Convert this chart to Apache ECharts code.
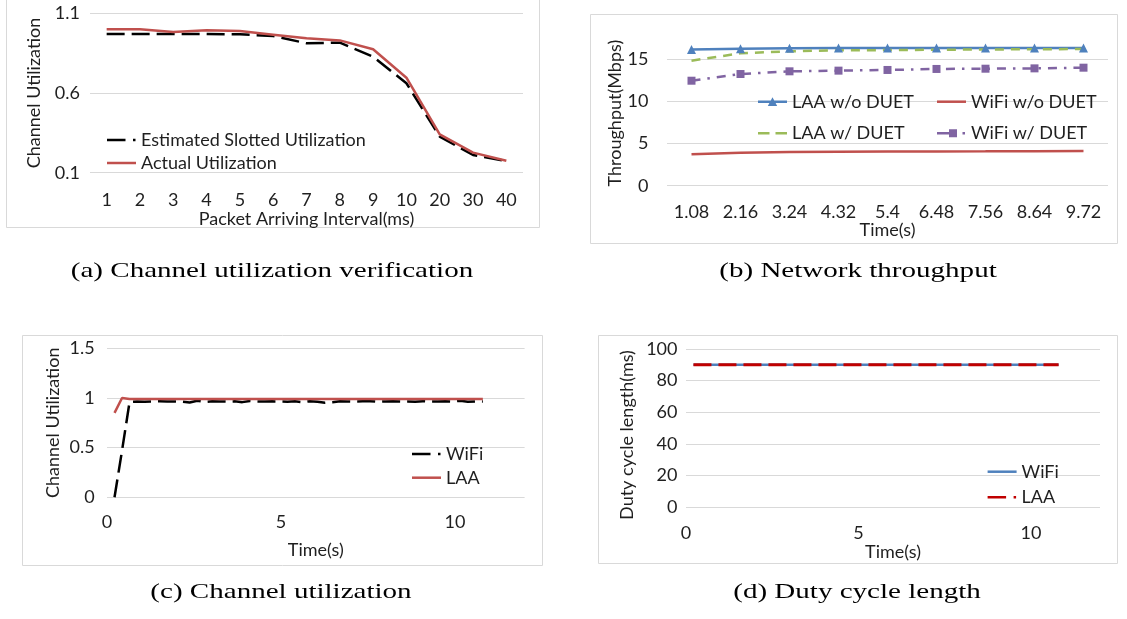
<!DOCTYPE html>
<html><head><meta charset="utf-8">
<script src="https://cdn.jsdelivr.net/npm/echarts@6.0.0/dist/echarts.min.js"></script>
<style>html,body{margin:0;padding:0;background:#fff}#c{width:1127px;height:619px}</style>
</head><body><div id="c"></div>
<script>
// (a) Channel utilization verification
const aCats = ['1','2','3','4','5','6','7','8','9','10','20','30','40'];
const aEstimated = [0.97,0.97,0.97,0.97,0.968,0.958,0.912,0.916,0.828,0.661,0.326,0.211,0.173];
const aActual = [1.0,1.0,0.983,0.993,0.989,0.966,0.943,0.93,0.874,0.696,0.34,0.226,0.175];
const aYTicks = [0.1, 0.6, 1.1];

// (b) Network throughput
const bTimes = ['1.08','2.16','3.24','4.32','5.4','6.48','7.56','8.64','9.72'];
const bLaaNo = [16.1,16.2,16.25,16.27,16.27,16.27,16.27,16.27,16.27];
const bWifiNo = [3.71,3.9,3.98,4.02,4.04,4.05,4.06,4.08,4.09];
const bLaaDuet = [14.78,15.65,15.89,16.0,16.03,16.07,16.1,16.13,16.15];
const bWifiDuet = [12.41,13.2,13.52,13.6,13.68,13.8,13.83,13.87,13.95];

// (c) Channel utilization
const timeC = [0.216,0.432,0.648,0.864,1.08,1.296,1.512,1.728,1.944,2.16,
  2.376,2.592,2.808,3.024,3.24,3.456,3.672,3.888,4.104,4.32,
  4.536,4.752,4.968,5.184,5.4,5.616,5.832,6.048,6.264,6.48,
  6.696,6.912,7.128,7.344,7.56,7.776,7.992,8.208,8.424,8.64,
  8.856,9.072,9.288,9.504,9.72,9.936,10.152,10.368,10.584,10.8];
const cWifi = [0,0.47,0.96,0.965,0.962,0.965,0.966,0.964,0.965,0.963,
  0.955,0.972,0.96,0.966,0.965,0.963,0.966,0.958,0.97,0.965,
  0.964,0.966,0.965,0.963,0.966,0.958,0.968,0.962,0.952,0.958,
  0.966,0.965,0.963,0.966,0.968,0.961,0.965,0.966,0.964,0.965,
  0.962,0.968,0.964,0.965,0.966,0.963,0.972,0.962,0.965,0.964];
const cLaa = [0.85,1.0,0.99,0.99,0.99,0.99,0.99,0.99,0.99,0.99,
  0.99,0.99,0.99,0.99,0.99,0.99,0.99,0.99,0.99,0.99,
  0.99,0.99,0.99,0.99,0.99,0.99,0.99,0.99,0.99,0.99,
  0.99,0.99,0.99,0.99,0.99,0.99,0.99,0.99,0.99,0.99,
  0.99,0.99,0.99,0.99,0.99,0.99,0.99,0.99,0.99,0.99];

// (d) Duty cycle length
const timeD = [0.216,1.08,2.16,3.24,4.32,5.4,6.48,7.56,8.64,9.72,10.8];
const dWifi = [90,90,90,90,90,90,90,90,90,90,90];
const dLaa = [90,90,90,90,90,90,90,90,90,90,90];

const captions = ['(a) Channel utilization verification','(b) Network throughput','(c) Channel utilization','(d) Duty cycle length'];

const FONT = 'Lato';
const TXT = '#1f1f1f';
const GRIDC = '#d9d9d9';
const RED = '#C0504D', BLUE = '#4F81BD', GREEN = '#9BBB59', PURPLE = '#8064A2', DRED = '#C00000';

const txt = {fontFamily: FONT, fontSize: 18, color: TXT};

function pairs(xs, ys) { return xs.map((x, i) => [x, ys[i]]); }

// legend icons (29x12 box, pinned by moveTo points)
const BOX = 'M0,0M29,12';
const icSolid = 'path://' + BOX + 'M0,4.75h29v2.5h-29z';
const icLongDashDot = 'path://' + BOX + 'M0,4.75h18.5v2.5h-18.5zM26,4.75h2.5v2.5h-2.5z';
const icDash = 'path://' + BOX + 'M0,4.75h11.5v2.5h-11.5zM17.5,4.75h11.5v2.5h-11.5z';
const icTri = 'path://' + BOX + 'M0,4.75h29v2.5h-29zM14.5,1.5L19.2,10.3H9.8z';
const icSqDashDot = 'path://' + BOX + 'M0,4.75h12v2.5h-12zM12,2h8v8h-8zM25.5,4.75h2.5v2.5h-2.5z';

function legItem(name, icon, color) {
  return {name: name, icon: icon, itemStyle: {color: color, borderWidth: 0}};
}
function legend(left, top, gap, items) {
  return {orient: 'vertical', left: left, top: top, itemGap: gap, itemWidth: 29, itemHeight: 12,
    padding: 0, selectedMode: false, textStyle: txt, symbolKeepAspect: true, data: items};
}

function catX(gi, data, margin, name, gap) {
  return {type: 'category', gridIndex: gi, data: data, boundaryGap: true,
    axisLine: {show: false}, axisTick: {show: false},
    axisLabel: Object.assign({margin: margin, interval: 0}, txt),
    name: name, nameLocation: 'middle', nameGap: gap, nameTextStyle: txt};
}
function valX(gi, margin, gap) {
  return {type: 'value', gridIndex: gi, min: 0, max: 12, interval: 5,
    axisLine: {show: false}, axisTick: {show: false}, splitLine: {show: false},
    axisLabel: Object.assign({margin: margin, showMaxLabel: false}, txt),
    name: 'Time(s)', nameLocation: 'middle', nameGap: gap, nameTextStyle: txt};
}
function valY(gi, min, max, interval, margin, name, gap, pad, extra) {
  return Object.assign({type: 'value', gridIndex: gi, min: min, max: max, interval: interval,
    axisLine: {show: false}, axisTick: {show: false},
    splitLine: {show: true, lineStyle: {color: GRIDC, width: 1}},
    axisLabel: Object.assign({margin: margin}, txt),
    name: name, nameLocation: 'middle', nameGap: gap,
    nameTextStyle: Object.assign({padding: pad}, txt)}, extra || {});
}

function box(x, y, w, h) {
  return {type: 'rect', shape: {x: x + 0.5, y: y + 0.5, width: w, height: h},
    style: {fill: 'none', stroke: GRIDC, lineWidth: 1}, silent: true, z: -1};
}
function cap(text, x, y) {
  return {type: 'text', x: x, y: y, scaleX: 1.32, silent: true,
    style: {text: text, fontFamily: '"Liberation Serif", serif', fontSize: 22, fill: '#000',
      align: 'center', verticalAlign: 'middle'}};
}

const option = {
  backgroundColor: '#fff',
  animation: false,
  grid: [
    {left: 90, top: 13.3, width: 433, height: 159.4},
    {left: 667, top: 16.5, width: 441, height: 169.2},
    {left: 107, top: 348.3, width: 417.6, height: 149},
    {left: 686, top: 349, width: 414, height: 158}
  ],
  xAxis: [
    catX(0, aCats, 18.5, 'Packet Arriving Interval(ms)', 33),
    catX(1, bTimes, 17, 'Time(s)', 35),
    valX(2, 15.5, 43.5),
    valX(3, 17.5, 36.5)
  ],
  yAxis: [
    valY(0, aYTicks[0], aYTicks[2], 0.5, 10, 'Channel Utilization', 46.5, [0,0,0,0]),
    valY(1, 0, 20, 5, 18.5, 'Throughput(Mbps)', 43, [0,24,0,0], {
      axisLabel: Object.assign({margin: 18.5, formatter: v => (v === 20 ? '' : String(v))}, txt),
      splitLine: {show: true, lineStyle: {color: [GRIDC, GRIDC, GRIDC, GRIDC, 'rgba(0,0,0,0)'], width: 1}}
    }),
    valY(2, 0, 1.5, 0.5, 12.4, 'Channel Utilization', 45, [0,0,0,0]),
    valY(3, 0, 100, 20, 8.5, 'Duty cycle length(ms)', 50, [0,14,0,0])
  ],
  legend: [
    legend(107, 131, 5, [
      legItem('Estimated Slotted Utilization', icLongDashDot, '#000'),
      legItem('Actual Utilization', icSolid, RED)]),
    legend(758, 92.7, 13.6, [
      legItem('LAA w/o DUET', icTri, BLUE),
      legItem('LAA w/ DUET', icDash, GREEN)]),
    legend(937, 92.7, 13.6, [
      legItem('WiFi w/o DUET', icSolid, RED),
      legItem('WiFi w/ DUET', icSqDashDot, PURPLE)]),
    legend(412, 445, 5.7, [
      legItem('WiFi', icLongDashDot, '#000'),
      legItem('LAA', icSolid, RED)]),
    legend(987.6, 462.7, 7.6, [
      legItem('WiFi', icSolid, BLUE),
      legItem('LAA', icLongDashDot, DRED)])
  ],
  series: [
    {name: 'Estimated Slotted Utilization', type: 'line', xAxisIndex: 0, yAxisIndex: 0, data: aEstimated,
      symbol: 'none', color: '#000', lineStyle: {color: '#000', width: 2.5, type: [18, 7]}},
    {name: 'Actual Utilization', type: 'line', xAxisIndex: 0, yAxisIndex: 0, data: aActual,
      symbol: 'none', color: RED, lineStyle: {color: RED, width: 2.5}},

    {name: 'LAA w/o DUET', type: 'line', xAxisIndex: 1, yAxisIndex: 1, data: bLaaNo,
      symbol: 'triangle', symbolSize: 9, color: BLUE, itemStyle: {color: BLUE},
      lineStyle: {color: BLUE, width: 2.5}},
    {name: 'WiFi w/o DUET', type: 'line', xAxisIndex: 1, yAxisIndex: 1, data: bWifiNo,
      symbol: 'none', color: RED, lineStyle: {color: RED, width: 2.5}},
    {name: 'LAA w/ DUET', type: 'line', xAxisIndex: 1, yAxisIndex: 1, data: bLaaDuet,
      symbol: 'none', color: GREEN, lineStyle: {color: GREEN, width: 2.5, type: [9, 7]}},
    {name: 'WiFi w/ DUET', type: 'line', xAxisIndex: 1, yAxisIndex: 1, data: bWifiDuet,
      symbol: 'rect', symbolSize: 8, color: PURPLE, itemStyle: {color: PURPLE},
      lineStyle: {color: PURPLE, width: 2.5, type: [9, 7, 2.5, 7]}},

    {name: 'WiFi', type: 'line', xAxisIndex: 2, yAxisIndex: 2, data: pairs(timeC, cWifi),
      symbol: 'none', color: '#000', lineStyle: {color: '#000', width: 2.5, type: [18, 7]}},
    {name: 'LAA', type: 'line', xAxisIndex: 2, yAxisIndex: 2, data: pairs(timeC, cLaa),
      symbol: 'none', color: RED, lineStyle: {color: RED, width: 2.5}},

    {name: 'WiFi', type: 'line', xAxisIndex: 3, yAxisIndex: 3, data: pairs(timeD, dWifi),
      symbol: 'none', color: BLUE, lineStyle: {color: BLUE, width: 2.5}},
    {name: 'LAA', type: 'line', xAxisIndex: 3, yAxisIndex: 3, data: pairs(timeD, dLaa),
      symbol: 'none', color: DRED, lineStyle: {color: DRED, width: 3, type: [18, 7]}}
  ],
  graphic: [
    box(6, -2, 533, 229),
    box(590, 14, 527, 229),
    box(22, 335, 520, 230),
    box(598, 335, 519, 228),
    cap(captions[0], 272, 271),
    cap(captions[1], 858, 271),
    cap(captions[2], 281, 592),
    cap(captions[3], 857, 592)
  ]
};

const chart = echarts.init(document.getElementById('c'), null, {renderer: 'canvas'});
chart.setOption(option);
</script>
</body></html>
